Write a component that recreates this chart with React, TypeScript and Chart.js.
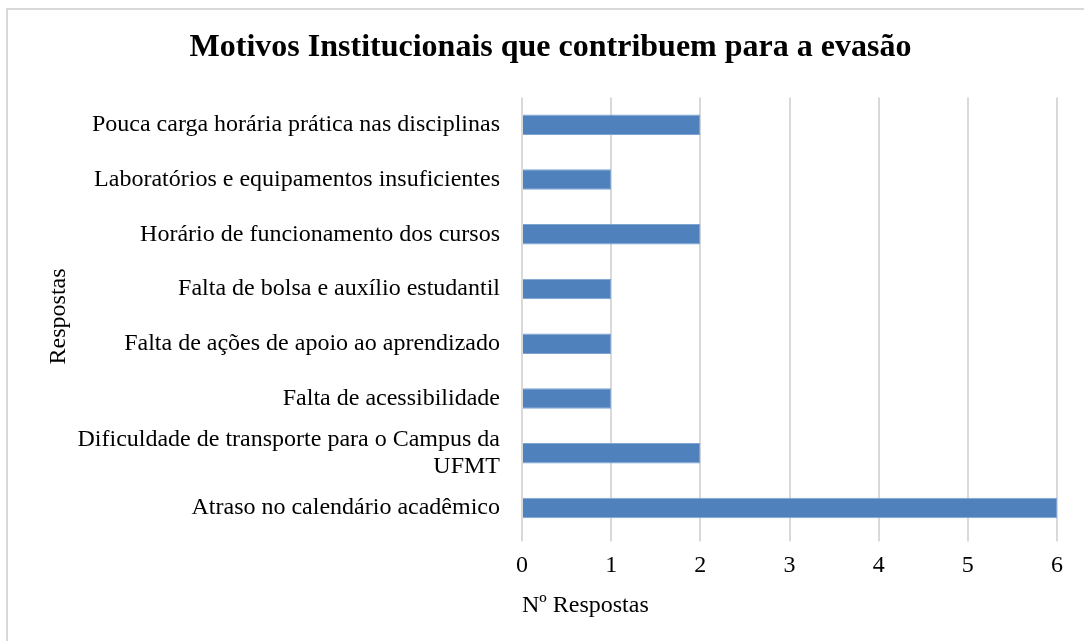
import React, { useEffect, useRef } from "react";
import { Chart, registerables } from "chart.js";

Chart.register(...registerables);

const categories: (string | string[])[] = [
  "Pouca carga horária prática nas disciplinas",
  "Laboratórios e equipamentos insuficientes",
  "Horário de funcionamento dos cursos",
  "Falta de bolsa e auxílio estudantil",
  "Falta de ações de apoio ao aprendizado",
  "Falta de acessibilidade",
  ["Dificuldade de transporte para o Campus da", "UFMT"],
  "Atraso no calendário acadêmico",
];
const values: number[] = [2, 1, 2, 1, 1, 1, 2, 6];
const xTicks: number[] = [0, 1, 2, 3, 4, 5, 6];

const FONT = "'Liberation Serif', 'Times New Roman', serif";

export default function App() {
  const ref = useRef<HTMLCanvasElement | null>(null);
  useEffect(() => {
    document.body.style.margin = "0";
    const ctx = ref.current!;
    const chart = new Chart(ctx, {
      type: "bar",
      data: {
        labels: categories,
        datasets: [
          {
            data: values,
            backgroundColor: "#4F81BD",
            borderColor: "#7EA3D1",
            borderWidth: 1,
            categoryPercentage: 0.7,
            barPercentage: 0.54,
          },
        ],
      },
      options: {
        indexAxis: "y",
        animation: false,
        responsive: false,
        maintainAspectRatio: false,
        layout: { padding: { left: 44, right: 27, top: 12, bottom: 21 } },
        plugins: {
          legend: { display: false },
          tooltip: { enabled: false },
          title: {
            display: true,
            text: "Motivos Institucionais que contribuem para a evasão",
            color: "#000",
            font: { family: FONT, size: 32, weight: "bold", lineHeight: 1.2 },
            padding: { top: 17, bottom: 30 },
          },
        },
        scales: {
          x: {
            min: 0,
            max: 6,
            afterBuildTicks: (s: any) => {
              s.ticks = xTicks.map((v) => ({ value: v }));
            },
            grid: {
              color: "#D9D9D9",
              lineWidth: 2,
              drawTicks: true,
              tickLength: 6,
              tickColor: "#D9D9D9",
            },
            border: { display: false },
            ticks: {
              color: "#000",
              font: { family: FONT, size: 24, lineHeight: 1.2 },
              padding: 10,
              autoSkip: false,
            },
            title: {
              display: true,
              text: "Nº Respostas",
              align: "start",
              color: "#000",
              font: { family: FONT, size: 24, lineHeight: 1.2 },
              padding: { top: 1, bottom: 0 },
            },
          },
          y: {
            grid: { display: false },
            border: { display: false },
            afterFit: (s: any) => {
              s.width = 522 - 44;
            },
            ticks: {
              color: "#000",
              font: { family: FONT, size: 24, lineHeight: 1.1 },
              padding: 14,
              autoSkip: false,
            },
            title: {
              display: true,
              text: "Respostas",
              color: "#000",
              font: { family: FONT, size: 24, lineHeight: 1.2 },
              padding: 0,
            },
          },
        },
      },
    });
    return () => chart.destroy();
  }, []);
  return (
    <div style={{ position: "relative", width: 1084, height: 641, overflow: "hidden", background: "#fff" }}>
      <div
        style={{
          position: "absolute",
          left: 6,
          top: 8,
          width: 1200,
          height: 800,
          border: "2px solid #D9D9D9",
          boxSizing: "border-box",
        }}
      />
      <canvas ref={ref} width={1084} height={641} style={{ position: "absolute", left: 0, top: 0 }} />
    </div>
  );
}
